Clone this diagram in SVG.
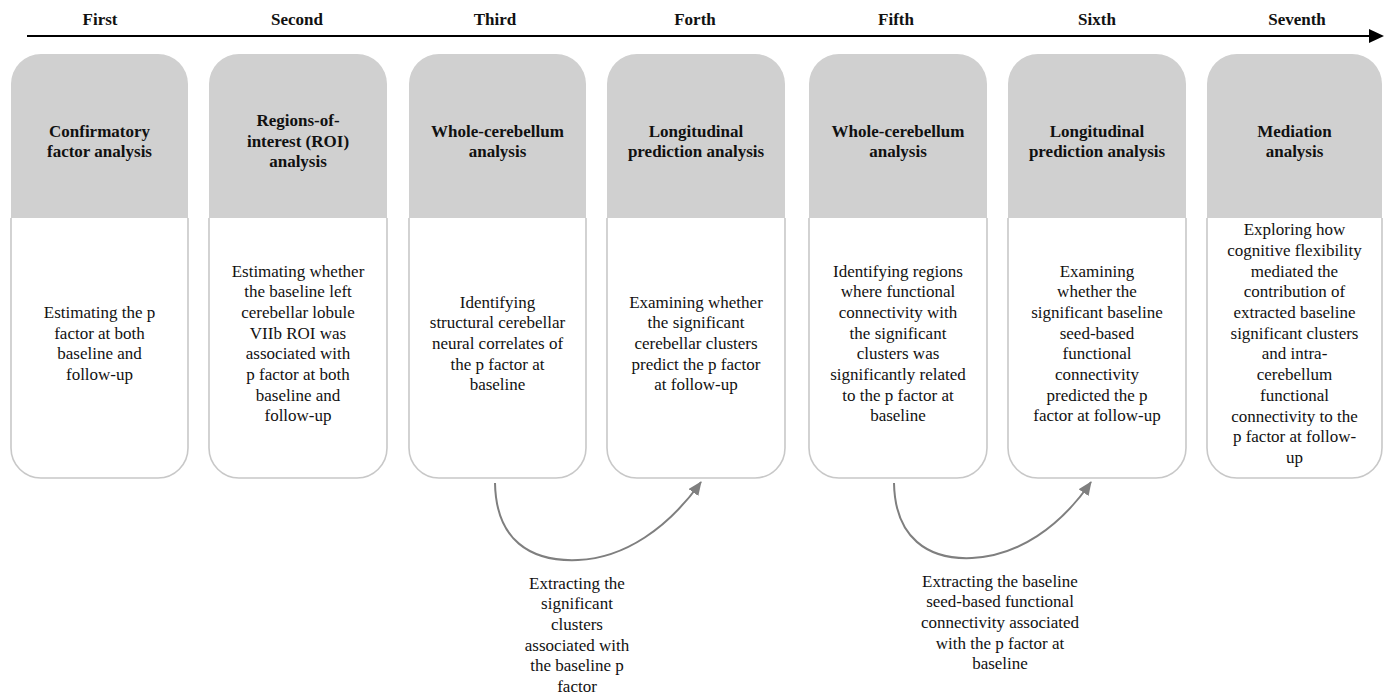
<svg xmlns="http://www.w3.org/2000/svg" width="1390" height="694" viewBox="0 0 1390 694">
<style>
.hd,.tt,.bd{font-family:"Liberation Serif",Tinos,"Times New Roman",Times,"DejaVu Serif",serif;font-size:17px;fill:#111;text-anchor:middle}
.hd,.tt{font-weight:bold}
.top{fill:#d0d0d0}
.bot{fill:#fff;stroke:#c8c8c8;stroke-width:1.6}
.conn{fill:none;stroke:#7f7f7f;stroke-width:2}
</style>
<defs>
<marker id="ah" markerUnits="userSpaceOnUse" markerWidth="16" markerHeight="14" refX="13" refY="6" orient="auto">
<path d="M0,0 L14,6 L0,12 Z" fill="#7f7f7f"/>
</marker>
</defs>
<rect width="1390" height="694" fill="#fff"/>
<g id="timeline">
<line x1="27" y1="36" x2="1372" y2="36" stroke="#000" stroke-width="2"/>
<polygon points="1369,29 1384,36 1369,43" fill="#000"/>
<text class="hd" x="100" y="25">First</text>
<text class="hd" x="297" y="25">Second</text>
<text class="hd" x="495" y="25">Third</text>
<text class="hd" x="695" y="25">Forth</text>
<text class="hd" x="896" y="25">Fifth</text>
<text class="hd" x="1097" y="25">Sixth</text>
<text class="hd" x="1297" y="25">Seventh</text>
</g>
<g id="card1">
<path class="top" d="M11,84 A30,30 0 0 1 41,54 H158 A30,30 0 0 1 188,84 V218 H11 Z"/>
<path class="bot" d="M11,218 V448 A30,30 0 0 0 41,478 H158 A30,30 0 0 0 188,448 V218"/>
<text class="tt"><tspan x="99.5" y="136.5">Confirmatory</tspan><tspan x="99.5" y="157.2">factor analysis</tspan></text>
<text class="bd"><tspan x="99.5" y="318">Estimating the p</tspan><tspan x="99.5" y="338.7">factor at both</tspan><tspan x="99.5" y="359.4">baseline and</tspan><tspan x="99.5" y="380.1">follow-up</tspan></text>
</g>
<g id="card2">
<path class="top" d="M209,84 A30,30 0 0 1 239,54 H357 A30,30 0 0 1 387,84 V218 H209 Z"/>
<path class="bot" d="M209,218 V448 A30,30 0 0 0 239,478 H357 A30,30 0 0 0 387,448 V218"/>
<text class="tt"><tspan x="298" y="125.9">Regions-of-</tspan><tspan x="298" y="146.6">interest (ROI)</tspan><tspan x="298" y="167.3">analysis</tspan></text>
<text class="bd"><tspan x="298" y="276.5">Estimating whether</tspan><tspan x="298" y="297.2">the baseline left</tspan><tspan x="298" y="317.9">cerebellar lobule</tspan><tspan x="298" y="338.6">VIIb ROI was</tspan><tspan x="298" y="359.3">associated with</tspan><tspan x="298" y="380">p factor at both</tspan><tspan x="298" y="400.7">baseline and</tspan><tspan x="298" y="421.4">follow-up</tspan></text>
</g>
<g id="card3">
<path class="top" d="M409,84 A30,30 0 0 1 439,54 H556 A30,30 0 0 1 586,84 V218 H409 Z"/>
<path class="bot" d="M409,218 V448 A30,30 0 0 0 439,478 H556 A30,30 0 0 0 586,448 V218"/>
<text class="tt"><tspan x="497.5" y="136.5">Whole-cerebellum</tspan><tspan x="497.5" y="157.2">analysis</tspan></text>
<text class="bd"><tspan x="497.5" y="307.6">Identifying</tspan><tspan x="497.5" y="328.3">structural cerebellar</tspan><tspan x="497.5" y="349">neural correlates of</tspan><tspan x="497.5" y="369.7">the p factor at</tspan><tspan x="497.5" y="390.4">baseline</tspan></text>
</g>
<g id="card4">
<path class="top" d="M607,84 A30,30 0 0 1 637,54 H755 A30,30 0 0 1 785,84 V218 H607 Z"/>
<path class="bot" d="M607,218 V448 A30,30 0 0 0 637,478 H755 A30,30 0 0 0 785,448 V218"/>
<text class="tt"><tspan x="696" y="136.5">Longitudinal</tspan><tspan x="696" y="157.2">prediction analysis</tspan></text>
<text class="bd"><tspan x="696" y="307.6">Examining whether</tspan><tspan x="696" y="328.3">the significant</tspan><tspan x="696" y="349">cerebellar clusters</tspan><tspan x="696" y="369.7">predict the p factor</tspan><tspan x="696" y="390.4">at follow-up</tspan></text>
</g>
<g id="card5">
<path class="top" d="M809,84 A30,30 0 0 1 839,54 H957 A30,30 0 0 1 987,84 V218 H809 Z"/>
<path class="bot" d="M809,218 V448 A30,30 0 0 0 839,478 H957 A30,30 0 0 0 987,448 V218"/>
<text class="tt"><tspan x="898" y="136.5">Whole-cerebellum</tspan><tspan x="898" y="157.2">analysis</tspan></text>
<text class="bd"><tspan x="898" y="276.5">Identifying  regions</tspan><tspan x="898" y="297.2">where functional</tspan><tspan x="898" y="317.9">connectivity with</tspan><tspan x="898" y="338.6">the significant</tspan><tspan x="898" y="359.3">clusters was</tspan><tspan x="898" y="380">significantly related</tspan><tspan x="898" y="400.7">to the p factor at</tspan><tspan x="898" y="421.4">baseline</tspan></text>
</g>
<g id="card6">
<path class="top" d="M1008,84 A30,30 0 0 1 1038,54 H1156 A30,30 0 0 1 1186,84 V218 H1008 Z"/>
<path class="bot" d="M1008,218 V448 A30,30 0 0 0 1038,478 H1156 A30,30 0 0 0 1186,448 V218"/>
<text class="tt"><tspan x="1097" y="136.5">Longitudinal</tspan><tspan x="1097" y="157.2">prediction analysis</tspan></text>
<text class="bd"><tspan x="1097" y="276.5">Examining</tspan><tspan x="1097" y="297.2">whether the</tspan><tspan x="1097" y="317.9">significant baseline</tspan><tspan x="1097" y="338.6">seed-based</tspan><tspan x="1097" y="359.3">functional</tspan><tspan x="1097" y="380">connectivity</tspan><tspan x="1097" y="400.7">predicted the p</tspan><tspan x="1097" y="421.4">factor at follow-up</tspan></text>
</g>
<g id="card7">
<path class="top" d="M1207,84 A30,30 0 0 1 1237,54 H1352 A30,30 0 0 1 1382,84 V218 H1207 Z"/>
<path class="bot" d="M1207,218 V448 A30,30 0 0 0 1237,478 H1352 A30,30 0 0 0 1382,448 V218"/>
<text class="tt"><tspan x="1294.5" y="136.5">Mediation</tspan><tspan x="1294.5" y="157.2">analysis</tspan></text>
<text class="bd"><tspan x="1294.5" y="235.2">Exploring how</tspan><tspan x="1294.5" y="255.9">cognitive flexibility</tspan><tspan x="1294.5" y="276.6">mediated the</tspan><tspan x="1294.5" y="297.3">contribution of</tspan><tspan x="1294.5" y="318">extracted baseline</tspan><tspan x="1294.5" y="338.7">significant clusters</tspan><tspan x="1294.5" y="359.4">and intra-</tspan><tspan x="1294.5" y="380.1">cerebellum</tspan><tspan x="1294.5" y="400.8">functional</tspan><tspan x="1294.5" y="421.5">connectivity to the</tspan><tspan x="1294.5" y="442.2">p factor at follow-</tspan><tspan x="1294.5" y="462.9">up</tspan></text>
</g>
<g id="connectors">
<path class="conn" d="M495,483 C496,540 530,562 578,560 C625,558 668,528 701,482" marker-end="url(#ah)"/>
<path class="conn" d="M894,483 C895,538 928,560 972,558 C1018,556 1060,527 1091,482" marker-end="url(#ah)"/>
</g>
<g id="label1">
<text class="bd"><tspan x="577" y="588.5">Extracting the</tspan><tspan x="577" y="609.2">significant</tspan><tspan x="577" y="629.9">clusters</tspan><tspan x="577" y="650.6">associated with</tspan><tspan x="577" y="671.3">the baseline p</tspan><tspan x="577" y="692">factor</tspan></text>
</g>
<g id="label2">
<text class="bd"><tspan x="1000" y="586.5">Extracting the baseline</tspan><tspan x="1000" y="607.2">seed-based functional</tspan><tspan x="1000" y="627.9">connectivity associated</tspan><tspan x="1000" y="648.6">with the p factor at</tspan><tspan x="1000" y="669.3">baseline</tspan></text>
</g>
</svg>
